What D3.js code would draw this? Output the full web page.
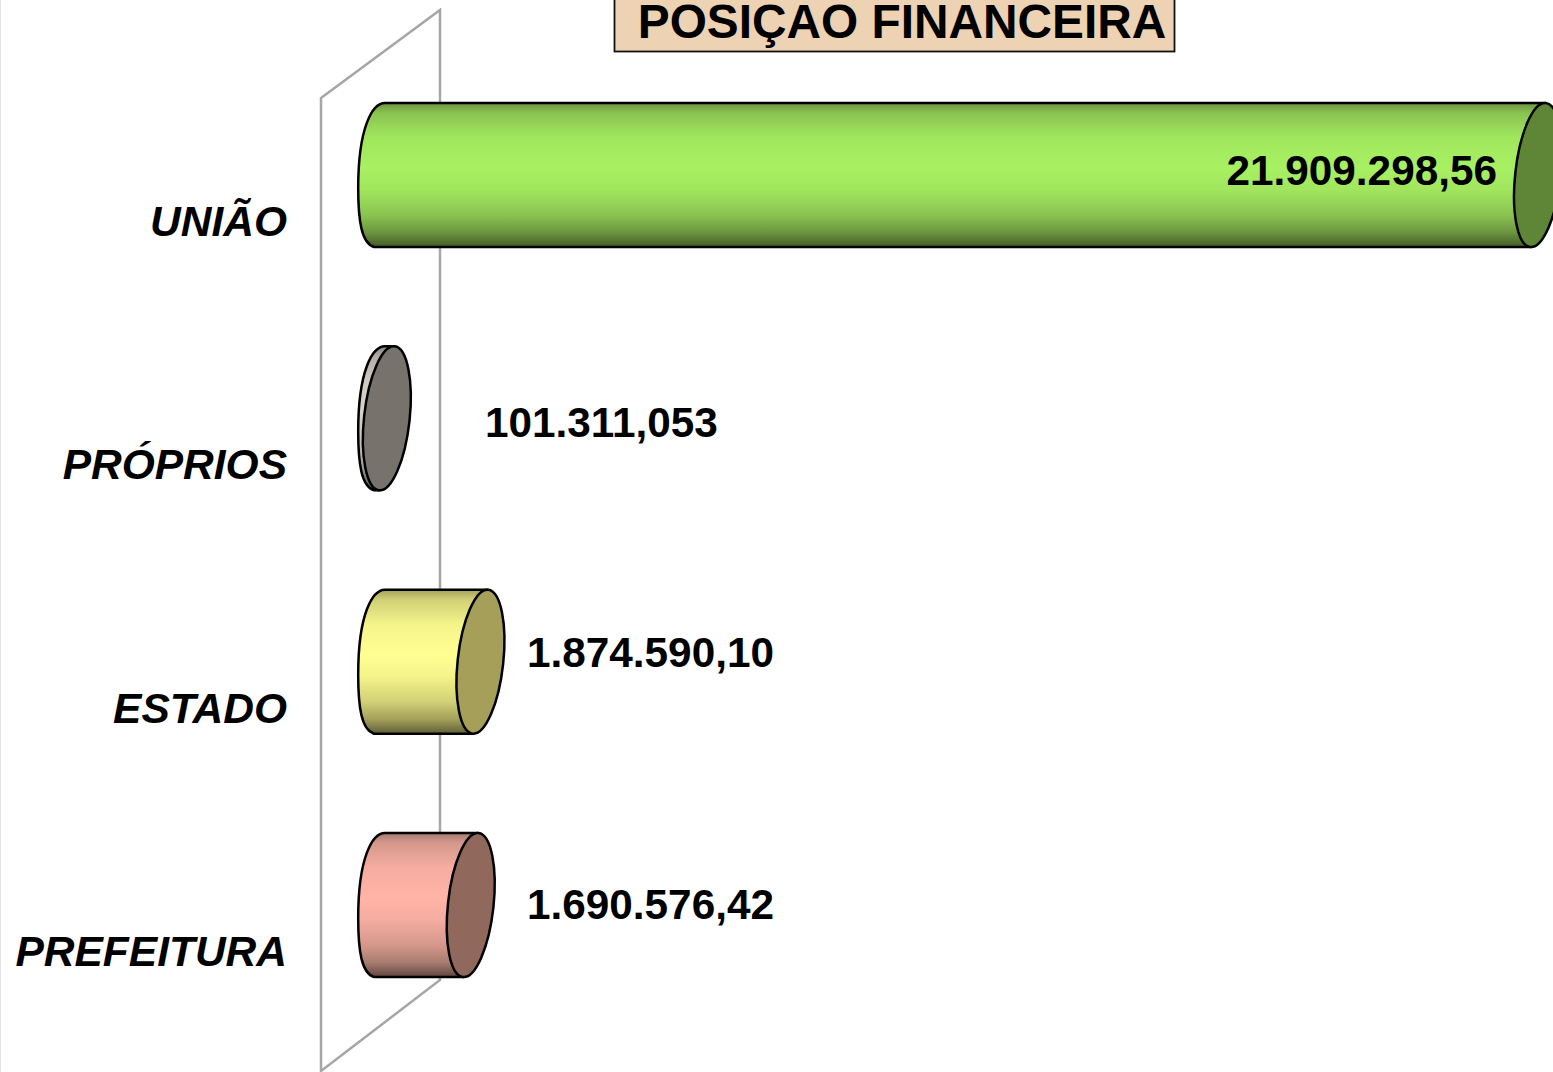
<!DOCTYPE html>
<html>
<head>
<meta charset="utf-8">
<script src="https://cdn.jsdelivr.net/npm/d3@7"></script>
<style>
  html, body { margin: 0; padding: 0; background: #fff; overflow: hidden; }
  svg { display: block; }
  text { font-family: "Liberation Sans", Arial, sans-serif; fill: #000; }
</style>
</head>
<body>
<svg id="chart" width="1553" height="1072"></svg>
<script>
// values
let categories = ["UNIÃO", "PRÓPRIOS", "ESTADO", "PREFEITURA"];
let values = [21909298.56, 101311.053, 1874590.10, 1690576.42];
let valueLabels = ["21.909.298,56", "101.311,053", "1.874.590,10", "1.690.576,42"];
let chartTitle = "POSIÇAO FINANCEIRA";

// colours of each bar: shade stops for the body, then the end cap
let bodyPeak = ["#a8f162", "#d8d2ca", "#ffff92", "#ffb4a6"];
let bodyEdge = ["#6b9440", "#8a8680", "#a3a05a", "#a87c70"];
let bodyDark = ["#425c26", "#55524e", "#5f5f38", "#5f4540"];
let capFill = ["#5f8537", "#77726b", "#a59f59", "#90685c"];

let svg = d3.select("#chart");

// Define scales
let xScale = d3.scaleLinear()
  .domain([0, d3.max(values)])
  .range([381.5, 1538]);

let yScale = d3.scalePoint()
  .domain(categories)
  .range([175, 905]);

// cap ellipse: long and short semi axes and the tilt in degrees
let capA = 72.4, capB = 22.8, capTilt = 6.2;
let tiltRad = capTilt * Math.PI / 180;
// where the top and bottom of the tilted ellipse sit
let halfH = Math.sqrt(capA * capA * Math.cos(tiltRad) ** 2 + capB * capB * Math.sin(tiltRad) ** 2);
let topDx = (capA * capA - capB * capB) * Math.sin(tiltRad) * Math.cos(tiltRad) / halfH;

// gradients, one per bar
let defs = svg.append("defs");
categories.forEach(function(c, i) {
  let g = defs.append("linearGradient")
    .attr("id", "body" + i)
    .attr("x1", 0).attr("x2", 0).attr("y1", 0).attr("y2", 1);
  let mix = d3.interpolateRgb(bodyEdge[i], bodyPeak[i]);
  [[0, bodyEdge[i]], [0.07, mix(0.5)], [0.24, mix(0.88)], [0.45, bodyPeak[i]],
   [0.6, mix(0.88)], [0.78, mix(0.5)], [0.9, bodyEdge[i]], [1, bodyDark[i]]]
    .forEach(function(s) {
      g.append("stop").attr("offset", s[0]).attr("stop-color", s[1]);
    });
});

// back wall of the chart
let wallLine = d3.line();
svg.append("path")
  .attr("d", wallLine([[321, 98], [440, 10], [440, 980], [321, 1071]]) + "Z")
  .attr("fill", "none")
  .attr("stroke", "#a6a6a6")
  .attr("stroke-width", 2.5);

// left page edge
svg.append("line")
  .attr("x1", 0.5).attr("x2", 0.5).attr("y1", 0).attr("y2", 1072)
  .attr("stroke", "#e4e4e4");

// title box
svg.append("rect")
  .attr("x", 614.5).attr("y", -4).attr("width", 560).attr("height", 55.5)
  .attr("fill", "#eed2b4").attr("stroke", "#111").attr("stroke-width", 1.8);
svg.append("text")
  .attr("x", 902).attr("y", 38)
  .attr("text-anchor", "middle")
  .attr("font-size", 47.8).attr("font-weight", "bold")
  .text(chartTitle);

// cylinders
let bars = svg.selectAll("g.bar")
  .data(categories)
  .enter()
  .append("g")
    .attr("class", "bar");

bars.append("path")
  .attr("fill", function(d, i) { return "url(#body" + i + ")"; })
  .attr("stroke", "#000")
  .attr("stroke-width", 2.5)
  .attr("stroke-linejoin", "round")
  .attr("d", function(d, i) {
    let cy = yScale(d), x0 = xScale(0), x1 = xScale(values[i]);
    let top = cy - halfH, bot = cy + halfH, left = x0 - capB - 0.5;
    // top edge, back along it, round the hidden cap's fuller left side, bottom edge
    return "M" + (x1 + topDx) + "," + top
      + "L" + (x0 + 3.5) + "," + top
      + "C" + (x0 - 9) + "," + top + " " + left + "," + (cy - 48) + " " + left + "," + (cy + 13)
      + "C" + left + "," + (cy + 46) + " " + (x0 - 20) + "," + (bot - 4) + " " + (x0 - 7.5) + "," + bot
      + "L" + (x1 - topDx) + "," + bot + "Z";
  });

bars.append("ellipse")
  .attr("rx", capB)
  .attr("ry", capA)
  .attr("fill", function(d, i) { return capFill[i]; })
  .attr("stroke", "#000")
  .attr("stroke-width", 2.5)
  .attr("transform", function(d, i) {
    return "translate(" + xScale(values[i]) + "," + yScale(d) + ") rotate(" + capTilt + ")";
  });

// category axis, pushed down and left of the bars like the 3D original
let yAxis = d3.axisLeft(yScale).tickSize(0).tickPadding(0);
let axisG = svg.append("g")
  .attr("transform", "translate(287,47)")
  .call(yAxis);
axisG.select(".domain").remove();
axisG.selectAll("text")
  .style("font-family", '"Liberation Sans", Arial, sans-serif')
  .style("font-size", "42.5px")
  .style("font-weight", "bold")
  .style("font-style", "italic")
  .style("fill", "#000");

// value labels, placed by hand in the original: [anchor x, baseline, anchor]
let labelSpots = [[1497, 185, "end"], [485, 437, "start"], [527, 667, "start"], [527, 919, "start"]];
svg.selectAll("text.val")
  .data(valueLabels)
  .enter()
  .append("text")
    .attr("class", "val")
    .attr("x", function(d, i) { return labelSpots[i][0]; })
    .attr("y", function(d, i) { return labelSpots[i][1]; })
    .attr("text-anchor", function(d, i) { return labelSpots[i][2]; })
    .attr("font-size", 42.3)
    .attr("font-weight", "bold")
    .text(function(d) { return d; });
</script>
</body>
</html>
